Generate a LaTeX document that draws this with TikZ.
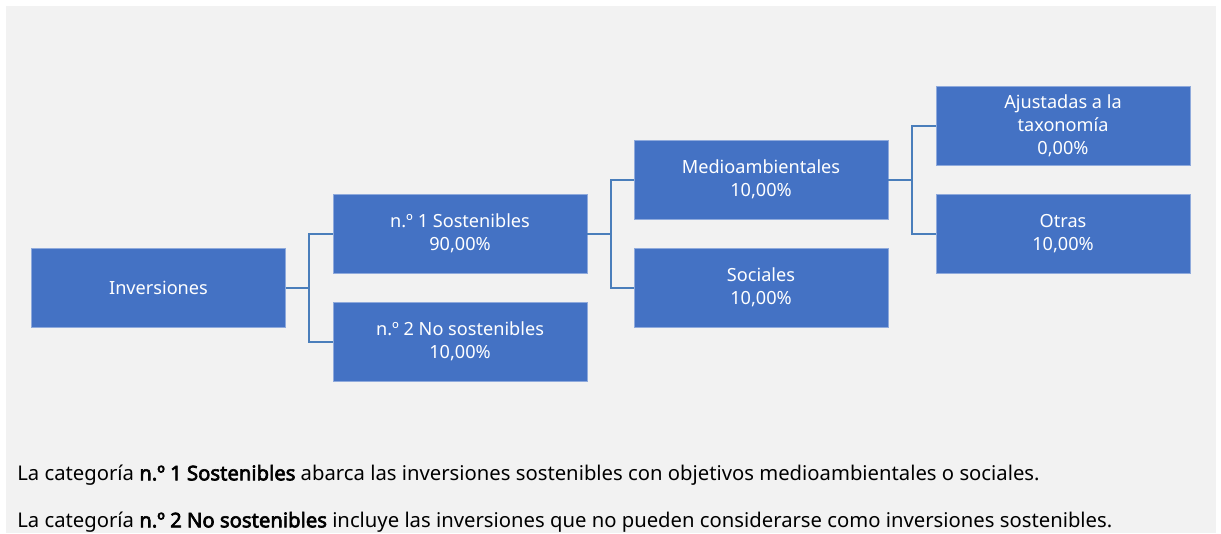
\documentclass[tikz,border=0pt]{standalone}
\usepackage{fontspec}
\setmainfont{Noto Sans}[AutoFakeBold=3]
\usepackage{xcolor}
\usepackage{tikz}
\usetikzlibrary{positioning, arrows.meta}

\definecolor{boxblue}{HTML}{4472C4}
\definecolor{boxedge}{HTML}{8FAADC}
\definecolor{linkblue}{HTML}{4A7EBB}
\definecolor{panel}{HTML}{F2F2F2}

\begin{document}
\begin{tikzpicture}[
    x=0.75pt, y=-0.75pt,
    category/.style={rectangle, draw=boxedge, line width=0.6pt, fill=boxblue, text=white, align=center,
        minimum width=190.5pt, minimum height=59.25pt, inner sep=0pt,
        font=\fontsize{13.6}{17.25}\selectfont},
    link/.style={draw=linkblue, line width=1.5pt},
    note/.style={anchor=west, inner sep=0pt, font=\fontsize{15.2}{18}\selectfont}
]

\useasboundingbox (0,0) rectangle (1221,533);
\fill[panel] (6,6) rectangle (1216,533);

\node[category] (inv) at (158.5, 287.5) {Inversiones};

\node[category] (sost) at (460, 233.5) {n.º 1 Sostenibles\\90,00\%};
\node[category] (nosost) at (460, 341.5) {n.º 2 No sostenibles\\10,00\%};

\node[category] (medio) at (761, 179.5) {Medioambientales\\10,00\%};
\node[category] (soc) at (761, 287.5) {Sociales\\10,00\%};

\node[category] (ajus) at (1063, 125.5) {Ajustadas a la\\taxonomía\\0,00\%};
\node[category] (otras) at (1063, 233.5) {Otras\\10,00\%};

\draw[link] (inv.east) -- ++(23.5,0) |- (sost.west);
\draw[link] (inv.east) -- ++(23.5,0) |- (nosost.west);
\draw[link] (sost.east) -- ++(23.5,0) |- (medio.west);
\draw[link] (sost.east) -- ++(23.5,0) |- (soc.west);
\draw[link] (medio.east) -- ++(23.5,0) |- (ajus.west);
\draw[link] (medio.east) -- ++(23.5,0) |- (otras.west);

\node[note] (first) at (17, 475) {La categoría \textbf{n.º 1 Sostenibles} abarca las inversiones sostenibles con objetivos medioambientales o sociales.};
\node[note] (second) at (17, 522) {La categoría \textbf{n.º 2 No sostenibles} incluye las inversiones que no pueden considerarse como inversiones sostenibles.};

\end{tikzpicture}
\end{document}
